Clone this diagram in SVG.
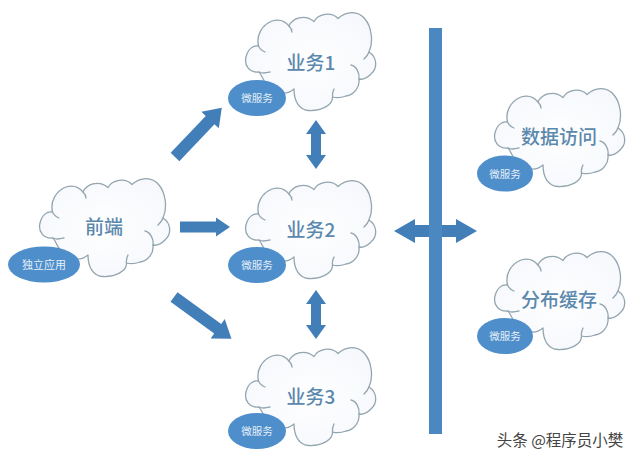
<svg xmlns="http://www.w3.org/2000/svg" xmlns:xlink="http://www.w3.org/1999/xlink" width="640" height="462" viewBox="0 0 640 462">
<style>
text{font-family:"Noto Sans CJK SC","Liberation Sans",sans-serif;text-anchor:middle}
.cloud{fill:url(#cf);stroke:#93a5af;stroke-width:1.3;stroke-linejoin:round}
.curl{fill:none;stroke:#93a5af;stroke-width:1.3;stroke-linecap:round}
.badge{fill:#4d8ecb;filter:url(#soft)}
.title{font-size:19px;fill:#5b88ad;font-weight:500}
.small{font-size:10.500px;fill:#e6eff8}
.arrow{fill:#427fb8}
.bar{fill:#4b87c1}
</style>
<defs>
<radialGradient id="cf" cx="50%" cy="50%" r="65%"><stop offset="0" stop-color="#ffffff"/><stop offset="1" stop-color="#f5f7fc"/></radialGradient>
<filter id="soft" x="-20%" y="-30%" width="140%" height="160%"><feGaussianBlur stdDeviation="0.6"/></filter>
<g id="c">
<path class="cloud" d="M13 59C3 60-2 52 0 44C2 36 7 32 12.500 33C10 22 16 12 26 8C33 6 39 8 43 13C46 6 58 0 68 8.500C72 1 85-2 92 5.500C100-2 112-3 119 6C125 13 128 28 123 39C131 44 132 55 125 61C121 65 117 67 113 66C114 74 108 82 100 83C95 85 90 85 86.500 84C87 92 76 98 63 97.500C53 97 48 88 48 76C40 83 24 82 15 62Z"/>
<path class="curl" d="M13 59C17 61 20 60 24 59M12.500 33C14 36 16 38 19 39M43 13C45 15 46 17 46 19M113 66C114 60 110 53 105 52M123 39C122 42 120 44 118 46M86.500 84C86 81 87 78 88 76"/>
</g>
</defs>
<rect width="640" height="462" fill="#ffffff"/>
<g id="connectors">
<polygon class="arrow" transform="translate(175 157) rotate(-46.500)" points="0,-6 51,-6 51,-12 68,0 51,12 51,6 0,6"/>
<polygon class="arrow" transform="translate(180 227)" points="0,-5.500 36,-5.500 36,-9.500 50,0 36,9.500 36,5.500 0,5.500"/>
<polygon class="arrow" transform="translate(174 297) rotate(36)" points="0,-6 54,-6 54,-12 71,0 54,12 54,6 0,6"/>
<polygon class="arrow" points="316,120 326,134 321,134 321,155 326,155 316,169 306,155 311,155 311,134 306,134"/>
<polygon class="arrow" points="316,290 326,304 321,304 321,325 326,325 316,339 306,325 311,325 311,304 306,304"/>
<polygon class="arrow" points="394,231 415,219 415,225 456,225 456,219 477,231 456,243 456,237 415,237 415,243"/>
<rect class="bar" x="429" y="28" width="13" height="406"/>
</g>
<g id="frontend"><use xlink:href="#c" href="#c" x="40" y="179"/><ellipse class="badge" cx="44" cy="264.500" rx="36" ry="18"/><text class="title" x="104" y="234">前端</text><text class="small" x="44" y="268.500" style="font-size:11px">独立应用</text></g>
<g id="biz1"><use href="#c" x="246" y="13"/><ellipse class="badge" cx="257" cy="98" rx="29" ry="18"/><text class="title" x="311" y="70">业务1</text><text class="small" x="257" y="102">微服务</text></g>
<g id="biz2"><use href="#c" x="246" y="181"/><ellipse class="badge" cx="257" cy="265" rx="29" ry="18"/><text class="title" x="311" y="237">业务2</text><text class="small" x="257" y="269">微服务</text></g>
<g id="biz3"><use href="#c" x="246" y="348"/><ellipse class="badge" cx="257" cy="431" rx="29" ry="18"/><text class="title" x="311" y="404">业务3</text><text class="small" x="257" y="435">微服务</text></g>
<g id="data"><use href="#c" x="495" y="89"/><ellipse class="badge" cx="505" cy="173.500" rx="28" ry="18"/><text class="title" x="559" y="144">数据访问</text><text class="small" x="505" y="177.500">微服务</text></g>
<g id="cache"><use href="#c" x="495" y="252"/><ellipse class="badge" cx="505" cy="336" rx="28" ry="18"/><text class="title" x="559" y="307">分布缓存</text><text class="small" x="505" y="340">微服务</text></g>
<text x="560" y="446" style="font-size:15.500px;fill:#444">头条 @程序员小樊</text>
</svg>
